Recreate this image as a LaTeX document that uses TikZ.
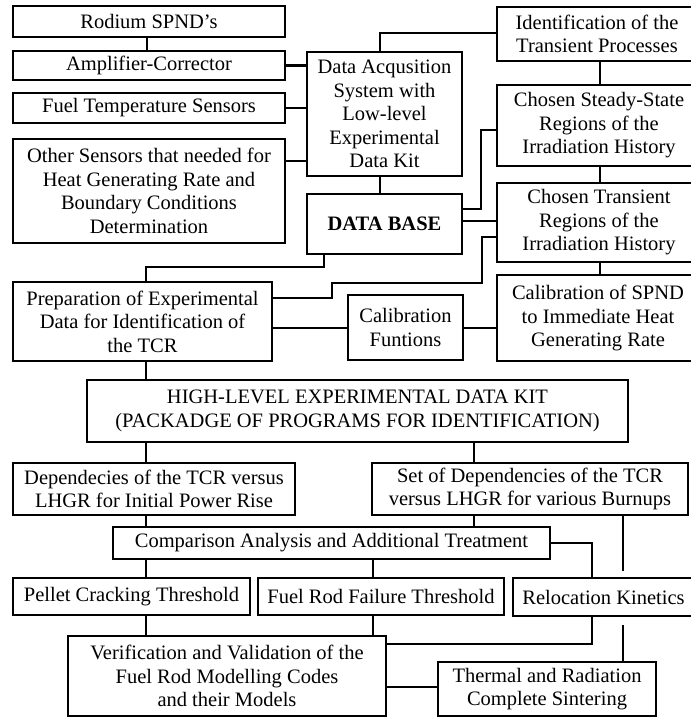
\documentclass[tikz,border=0pt]{standalone}
\usepackage{fontspec}
\setmainfont{Liberation Serif}
\newcommand\bx[6]{\node[bx, minimum width={#4-#2}, minimum height={#5-#3}] (#1) at ({(#2+#4)/2},{(#3+#5)/2}) {#6};}
\begin{document}
\begin{tikzpicture}[x=1pt,y=-1pt,
 bx/.style={draw,line width=2.2pt,inner sep=0pt,align=center,font=\fontsize{20.5}{23.5}\selectfont},
 ln/.style={line width=2.2pt}]
\useasboundingbox (0,0) rectangle (691,718);
\fill[white] (0,0) rectangle (691,718);
\bx{rod}{13}{6}{285}{37}{Rodium SPND{\char"27}s}
\bx{amp}{13}{51}{285}{80}{Amplifier-Corrector}
\bx{fts}{13}{93}{285}{123}{Fuel Temperature Sensors}
\bx{oth}{13}{139}{285}{243}{Other Sensors that needed for\\Heat Generating Rate and\\Boundary Conditions\\Determination}
\bx{daq}{307}{52}{462}{176}{Data Acqusition\\System with\\Low-level\\Experimental\\Data Kit}
\bx{db}{307}{194}{462}{254}{\textbf{DATA BASE}}
\bx{ident}{497}{7}{697}{61}{Identification of the\\Transient Processes}
\bx{steady}{497}{85}{701}{166}{Chosen Steady-State\\Regions of the\\Irradiation History}
\bx{trans}{497}{183}{701}{262}{Chosen Transient\\Regions of the\\Irradiation History}
\bx{calspnd}{497}{275}{699}{361}{Calibration of SPND\\to Immediate Heat\\Generating Rate}
\bx{calf}{348}{295}{463}{360}{Calibration\\Funtions}
\bx{prep}{13}{282}{272}{361}{Preparation of Experimental\\Data for Identification of\\the TCR}
\bx{hl}{87}{380}{628}{442}{HIGH-LEVEL EXPERIMENTAL DATA KIT\\(PACKADGE OF PROGRAMS FOR IDENTIFICATION)}
\bx{dep}{13}{463}{295}{515}{Dependecies of the TCR versus\\LHGR for Initial Power Rise}
\bx{set}{372}{463}{688}{515}{Set of Dependencies of the TCR\\versus LHGR for various Burnups}
\bx{comp}{113}{527}{550}{559}{Comparison Analysis and Additional Treatment}
\bx{pellet}{13}{578}{250}{615}{Pellet Cracking Threshold}
\bx{frf}{258}{578}{504}{615}{Fuel Rod Failure Threshold}
\bx{reloc}{513}{578}{694}{616}{Relocation Kinetics}
\bx{ver}{68}{636}{386}{716}{Verification and Validation of the\\Fuel Rod Modelling Codes\\and their Models}
\bx{thermal}{438}{662}{656}{716}{Thermal and Radiation\\Complete Sintering}
\draw[ln] (rod.south -| 147,0) -- (amp.north -| 147,0);
\draw[ln] (amp.east) -- (amp.east -| daq.west);
\draw[ln] (fts.east) -- (fts.east -| daq.west);
\draw[ln] (oth.east |- 0,161) -- (daq.west |- 0,161);
\draw[ln] (ident.west |- 0,33) -| (daq.north -| 380,0);
\draw[ln] (ident.south -| 600,0) -- (steady.north -| 600,0);
\draw[ln] (steady.south -| 600,0) -- (trans.north -| 600,0);
\draw[ln] (trans.south -| 600,0) -- (calspnd.north -| 600,0);
\draw[ln] (daq.south -| 380,0) -- (db.north -| 380,0);
\draw[ln] (db.east |- 0,209) -- (481,209) |- (steady.west |- 0,130);
\draw[ln] (db.east |- 0,221) -- (trans.west |- 0,221);
\draw[ln] (db.south -| 324,0) |- (146,267) -- (prep.north -| 146,0);
\draw[ln] (prep.east |- 0,298) -| (332,283) -| (482,237) -- (trans.west |- 0,237);
\draw[ln] (prep.east |- 0,328) -- (calf.west |- 0,328);
\draw[ln] (calf.east |- 0,328) -- (calspnd.west |- 0,328);
\draw[ln] (prep.south -| 146,0) -- (hl.north -| 146,0);
\draw[ln] (hl.south -| 146,0) -- (dep.north -| 146,0);
\draw[ln] (hl.south -| 474,0) -- (set.north -| 474,0);
\draw[ln] (dep.south -| 146,0) -- (comp.north -| 146,0);
\draw[ln] (set.south -| 474,0) -- (comp.north -| 474,0);
\draw[ln,shorten >=6pt] (set.south -| 623,0) -- (reloc.north -| 623,0);
\draw[ln] (comp.east) -| (reloc.north -| 592,0);
\draw[ln] (comp.south -| 146,0) -- (pellet.north -| 146,0);
\draw[ln] (comp.south -| 373,0) -- (frf.north -| 373,0);
\draw[ln] (pellet.south -| 146,0) -- (ver.north -| 146,0);
\draw[ln] (frf.south -| 373,0) -- (ver.north -| 373,0);
\draw[ln] (reloc.south -| 592,0) |- (ver.east |- 0,644);
\draw[ln] (ver.east |- 0,687) -- (thermal.west |- 0,687);
\draw[ln,shorten <=8pt] (reloc.south -| 623,0) -- (thermal.north -| 623,0);
\end{tikzpicture}
\end{document}
